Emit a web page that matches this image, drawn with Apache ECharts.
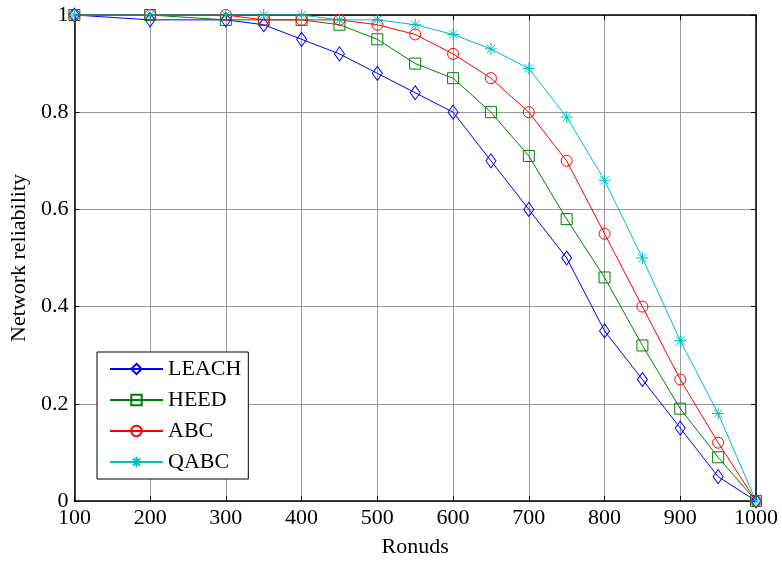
<!DOCTYPE html>
<html>
<head>
<meta charset="utf-8">
<script src="https://cdn.jsdelivr.net/npm/echarts@6/dist/echarts.min.js"></script>
<style>
  html, body { margin: 0; padding: 0; background: #fff; }
  #chart { width: 782px; height: 563px; }
</style>
</head>
<body>
<div id="chart"></div>
<script>
// Rounds at which network reliability was sampled
const rounds = [100, 200, 300, 350, 400, 450, 500, 550, 600, 650, 700, 750, 800, 850, 900, 950, 1000];

// Reliability per protocol
const leach = [1, 0.99, 0.99, 0.98, 0.95, 0.92, 0.88, 0.84, 0.80, 0.70, 0.60, 0.50, 0.35, 0.25, 0.15, 0.05, 0];
const heed  = [1, 1, 0.99, 0.99, 0.99, 0.98, 0.95, 0.90, 0.87, 0.80, 0.71, 0.58, 0.46, 0.32, 0.19, 0.09, 0];
const abc   = [1, 1, 1, 0.99, 0.99, 0.99, 0.98, 0.96, 0.92, 0.87, 0.80, 0.70, 0.55, 0.40, 0.25, 0.12, 0];
const qabc  = [1, 1, 1, 1, 1, 0.99, 0.99, 0.98, 0.96, 0.93, 0.89, 0.79, 0.66, 0.50, 0.33, 0.18, 0];

const seriesNames = ['LEACH', 'HEED', 'ABC', 'QABC'];
const xTicks = [100, 200, 300, 400, 500, 600, 700, 800, 900, 1000];
const yTicks = [0, 0.2, 0.4, 0.6, 0.8, 1];

const FONT = "'Liberation Serif', 'Times New Roman', serif";
const ASTERISK = 'path://M10 0L10 20M0 10L20 10M3 3L17 17M3 17L17 3';

function pairs(ys) { return rounds.map((r, i) => [r, ys[i]]); }

function lineSeries(name, ys, color, symbol, size) {
  return {
    name: name,
    type: 'line',
    data: pairs(ys),
    symbol: symbol,
    symbolSize: size,
    clip: false,
    lineStyle: { color: color, width: 1 },
    itemStyle: { color: 'rgba(255,255,255,0)', borderColor: color, borderWidth: 1 },
    emphasis: { disabled: true },
    animation: false,
    z: 3
  };
}

const chart = echarts.init(document.getElementById('chart'), null, { renderer: 'canvas' });

const gridLine = { show: true, lineStyle: { color: '#999999', width: 1 } };
const tickStyle = { show: true, inside: true, length: 5, lineStyle: { color: '#000', width: 1 } };
const axisLine = { show: true, onZero: false, lineStyle: { color: '#000', width: 1.5 } };
const plain = v => String(v);

chart.setOption({
  backgroundColor: '#fff',
  animation: false,
  grid: { left: 72, right: 26, top: 15, bottom: 56, containLabel: false },
  legend: {
    orient: 'vertical',
    left: 97,
    top: 352,
    padding: [6, 7, 6, 12],
    itemGap: 9,
    itemWidth: 53,
    itemHeight: 13,
    backgroundColor: '#fff',
    borderColor: '#000',
    borderWidth: 1,
    borderRadius: 0,
    textStyle: { fontFamily: FONT, fontSize: 22, color: '#000' },
    data: seriesNames
  },
  xAxis: [{
    type: 'value',
    min: xTicks[0],
    max: xTicks[xTicks.length - 1],
    interval: 100,
    name: 'Ronuds',
    nameLocation: 'middle',
    nameGap: 35,
    nameTextStyle: { fontFamily: FONT, fontSize: 22, color: '#000' },
    axisLine: axisLine,
    axisTick: tickStyle,
    axisLabel: { fontFamily: FONT, fontSize: 22, color: '#000', margin: 6, formatter: plain },
    splitLine: gridLine
  }, {
    type: 'value',
    position: 'top',
    min: xTicks[0],
    max: xTicks[xTicks.length - 1],
    interval: 100,
    axisLine: axisLine,
    axisTick: tickStyle,
    axisLabel: { show: false },
    splitLine: { show: false }
  }],
  yAxis: [{
    type: 'value',
    min: yTicks[0],
    max: yTicks[yTicks.length - 1],
    interval: 0.2,
    name: 'Network reliability',
    nameLocation: 'middle',
    nameGap: 38,
    nameTextStyle: { fontFamily: FONT, fontSize: 22, color: '#000' },
    axisLine: axisLine,
    axisTick: tickStyle,
    axisLabel: { fontFamily: FONT, fontSize: 22, color: '#000', margin: 6, formatter: plain },
    splitLine: gridLine
  }, {
    type: 'value',
    position: 'right',
    min: yTicks[0],
    max: yTicks[yTicks.length - 1],
    interval: 0.2,
    axisLine: axisLine,
    axisTick: tickStyle,
    axisLabel: { show: false },
    splitLine: { show: false }
  }],
  series: [
    lineSeries('LEACH', leach, '#0000ff', 'diamond', [10, 14]),
    lineSeries('HEED', heed, '#008000', 'rect', 11),
    lineSeries('ABC', abc, '#ff0000', 'circle', 11),
    lineSeries('QABC', qabc, '#00bfbf', ASTERISK, 12)
  ]
});
</script>
</body>
</html>
